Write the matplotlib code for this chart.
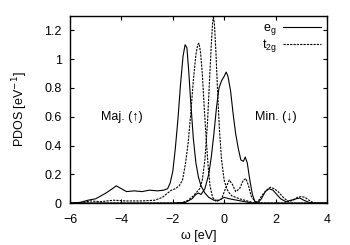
import matplotlib
matplotlib.use("Agg")
import matplotlib.pyplot as plt

plt.rcParams['font.family'] = ['Liberation Sans', 'DejaVu Sans']

# majority e_g (solid)
maj_eg_w = [-6.0, -5.6, -5.3, -5.0, -4.6, -4.35, -4.2, -4.0, -3.8, -3.5, -3.2, -2.9, -2.6, -2.35, -2.2,
            -2.1, -2.0, -1.9, -1.8, -1.7, -1.6, -1.52, -1.45, -1.38, -1.3, -1.2, -1.1, -1.0, -0.9, -0.75,
            -0.6, -0.4, -0.2, 0.0, 0.2, 0.5, 0.8, 1.1, 1.5, 2.5, 4.0]
maj_eg = [0.0, 0.005, 0.02, 0.03, 0.07, 0.1, 0.12, 0.1, 0.08, 0.085, 0.08, 0.09, 0.085, 0.09, 0.1,
          0.14, 0.22, 0.38, 0.58, 0.82, 1.02, 1.1, 1.08, 0.92, 0.7, 0.45, 0.28, 0.18, 0.12, 0.07,
          0.04, 0.02, 0.02, 0.04, 0.03, 0.02, 0.01, 0.0, 0.0, 0.0, 0.0]

# majority t2g (dashed)
maj_t2g_w = [-6.0, -5.5, -5.2, -4.8, -4.3, -3.8, -3.2, -2.7, -2.4, -2.2, -2.05, -1.9, -1.75, -1.62, -1.5,
             -1.4, -1.3, -1.2, -1.1, -1.03, -0.98, -0.92, -0.85, -0.78, -0.7, -0.62, -0.55, -0.45, -0.3,
             -0.1, 0.05, 0.2, 0.32, 0.45, 0.6, 0.75, 0.85, 0.95, 1.05, 1.2, 1.5, 4.0]
maj_t2g = [0.0, 0.005, 0.015, 0.01, 0.02, 0.015, 0.015, 0.02, 0.04, 0.07, 0.09, 0.1, 0.12, 0.16, 0.28,
           0.42, 0.62, 0.85, 1.03, 1.1, 1.11, 1.05, 0.9, 0.68, 0.45, 0.25, 0.12, 0.04, 0.01,
           0.03, 0.1, 0.16, 0.13, 0.08, 0.1, 0.16, 0.17, 0.12, 0.05, 0.01, 0.0, 0.0]

# minority e_g (solid)
min_eg_w = [-6.0, -2.0, -1.5, -1.25, -1.1, -1.0, -0.9, -0.75, -0.6, -0.5, -0.4, -0.3, -0.2, -0.1, 0.0,
            0.08, 0.15, 0.25, 0.35, 0.45, 0.55, 0.65, 0.75, 0.82, 0.9, 1.0, 1.1, 1.2, 1.3, 1.45, 1.6,
            1.75, 1.9, 2.05, 2.2, 2.4, 2.6, 2.8, 2.95, 3.1, 3.3, 3.5, 4.0]
min_eg = [0.0, 0.0, 0.005, 0.03, 0.06, 0.07, 0.06, 0.1, 0.2, 0.32, 0.48, 0.66, 0.8, 0.85, 0.88,
          0.91, 0.88, 0.78, 0.62, 0.48, 0.38, 0.3, 0.29, 0.32, 0.28, 0.16, 0.06, 0.01, 0.0, 0.03, 0.08,
          0.1, 0.09, 0.06, 0.03, 0.01, 0.02, 0.03, 0.035, 0.02, 0.005, 0.0, 0.0]

# minority t2g (dashed)
min_t2g_w = [-6.0, -2.0, -1.6, -1.4, -1.2, -1.05, -0.95, -0.85, -0.75, -0.65, -0.57, -0.5, -0.45, -0.42,
             -0.38, -0.32, -0.25, -0.18, -0.1, 0.0, 0.1, 0.2, 0.3, 0.45, 0.6, 0.8, 1.0, 1.2, 1.35, 1.5,
             1.65, 1.8, 1.95, 2.1, 2.3, 2.5, 2.7, 2.85, 3.0, 3.15, 3.3, 3.5, 4.0]
min_t2g = [0.0, 0.0, 0.005, 0.02, 0.05, 0.08, 0.1, 0.16, 0.3, 0.55, 0.85, 1.1, 1.25, 1.29,
           1.25, 1.05, 0.75, 0.5, 0.3, 0.16, 0.1, 0.07, 0.05, 0.04, 0.03, 0.02, 0.01, 0.0, 0.02, 0.06,
           0.09, 0.11, 0.1, 0.08, 0.04, 0.01, 0.02, 0.04, 0.045, 0.04, 0.02, 0.0, 0.0]

fig = plt.figure(figsize=(3.5, 2.45), dpi=100)
ax = fig.add_axes([0.2, 0.171, 0.734, 0.764])

dash = (0, (2.0, 1.0))
ax.plot(maj_eg_w, maj_eg, color='black', lw=0.8, label='e$_\\mathregular{g}$')
ax.plot(maj_t2g_w, maj_t2g, color='black', lw=0.8, linestyle=dash, label='t$_\\mathregular{2g}$')
ax.plot(min_eg_w, min_eg, color='black', lw=0.8)
ax.plot(min_t2g_w, min_t2g, color='black', lw=0.8, linestyle=dash)

ax.set_xlim(-6, 4)
ax.set_ylim(0, 1.3)
ax.set_xticks([-6, -4, -2, 0, 2, 4])
ax.set_yticks([0, 0.2, 0.4, 0.6, 0.8, 1.0, 1.2])
ax.set_yticklabels(['0', '0.2', '0.4', '0.6', '0.8', '1', '1.2'])
ax.tick_params(direction='in', top=True, right=True, labelsize=9, length=3, width=0.8)
ax.tick_params(axis='x', pad=8)
ax.tick_params(axis='y', pad=6)
for s in ax.spines.values():
    s.set_linewidth(1.0)

ax.set_xlabel('ω [eV]', fontsize=9, labelpad=3)
ax.set_ylabel('PDOS [eV$^{-1}$]', fontsize=9, labelpad=10)

ax.text(-4.0, 0.6, 'Maj. (↑)', fontsize=9, ha='center', va='center')
ax.text(2.0, 0.6, 'Min. (↓)', fontsize=9, ha='center', va='center')

ax.legend(loc='upper right', frameon=False, fontsize=9, markerfirst=False,
          handlelength=3.0, handletextpad=0.5, labelspacing=0.0, borderaxespad=0.1)

fig.savefig('out.png', dpi=100)
